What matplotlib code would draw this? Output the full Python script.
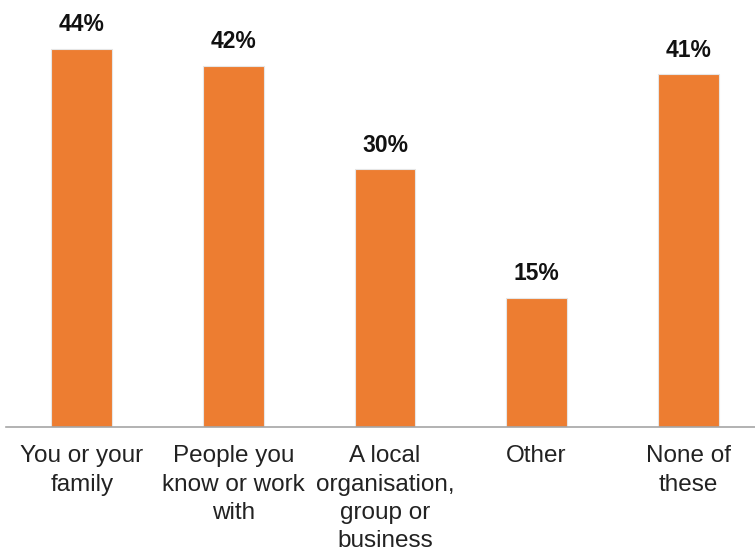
import matplotlib.pyplot as plt

categories = ["You or your\nfamily", "People you\nknow or work\nwith",
              "A local\norganisation,\ngroup or\nbusiness", "Other", "None of\nthese"]
values = [44, 42, 30, 15, 41]
labels = ["44%", "42%", "30%", "15%", "41%"]

plt.rcParams['font.family'] = ['Liberation Sans', 'DejaVu Sans']

W, H = 755, 551
fig = plt.figure(figsize=(W / 100, H / 100), dpi=100)
# x range [-0.5, 4.5] spans pixel 6..764, baseline at y=427, 8.6 px per %
ax = fig.add_axes([6 / W, 124 / H, 758 / W, 430 / H])

ax.bar(range(len(values)), values, width=0.4, color="#ED7D31",
       edgecolor="#E6E6E6", linewidth=0.8)
for i, (v, lab) in enumerate(zip(values, labels)):
    ax.annotate(lab, (i, v), xytext=(0, 9), textcoords="offset points",
                ha="center", va="bottom", fontsize=16.5, fontweight="bold",
                color="#111111")

ax.set_xlim(-0.5, 4.5)
ax.set_ylim(0, 50)
ax.set_xticks(range(len(categories)))
ax.set_xticklabels(categories, fontsize=17.5, color="#222222", linespacing=1.38)
ax.tick_params(axis="x", length=0, pad=13)
ax.set_yticks([])
for side in ["top", "left", "right"]:
    ax.spines[side].set_visible(False)
ax.spines["bottom"].set_color("#A6A6A6")
ax.spines["bottom"].set_linewidth(1.2)

fig.savefig("out.png", dpi=100)
